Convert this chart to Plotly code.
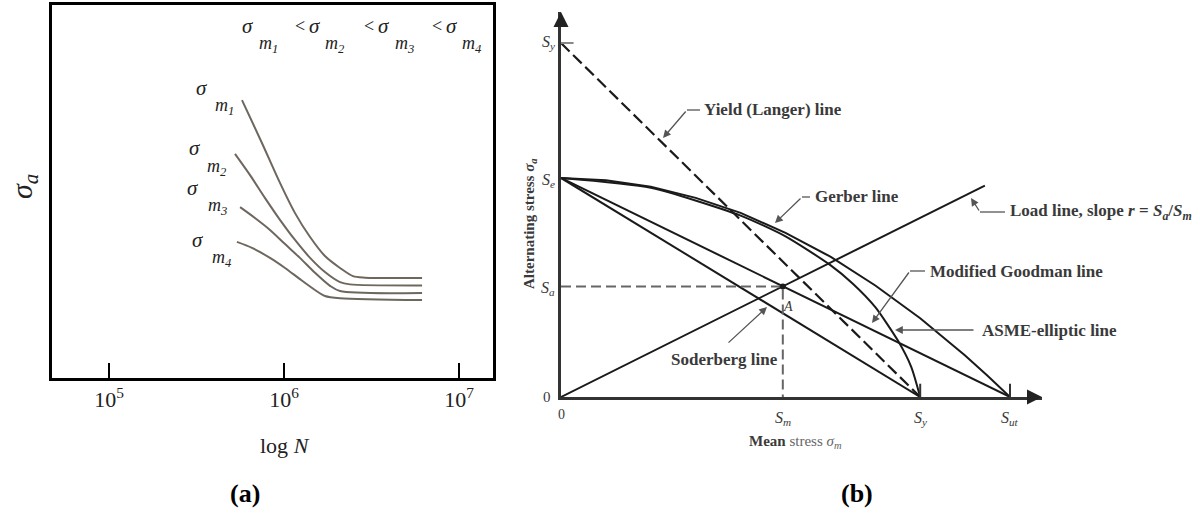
import plotly.graph_objects as go

W, H = 1200, 517

# ---------------- Panel (a): S-N curves for different mean stresses ----------------
# log10(N) and alternating stress (arbitrary units)
logN_m1 = [5.760, 5.874, 5.977, 6.063, 6.149, 6.234, 6.320, 6.394, 6.463, 6.789]
sa_m1 = [74.5, 63.0, 52.3, 44.2, 37.8, 32.7, 29.5, 27.3, 26.9, 26.8]
logN_m2 = [5.720, 5.806, 5.891, 5.977, 6.063, 6.149, 6.234, 6.320, 6.377, 6.789]
sa_m2 = [60.1, 54.4, 48.3, 42.4, 37.0, 32.2, 28.4, 25.7, 25.1, 24.8]
logN_m3 = [5.749, 5.834, 5.920, 6.006, 6.091, 6.177, 6.263, 6.320, 6.789]
sa_m3 = [45.8, 42.9, 39.7, 35.9, 32.2, 28.2, 24.7, 23.3, 22.8]
logN_m4 = [5.731, 5.817, 5.920, 6.006, 6.091, 6.177, 6.234, 6.320, 6.789]
sa_m4 = [36.5, 34.9, 32.2, 29.5, 26.5, 23.6, 22.0, 21.4, 20.9]
a_tick_vals = [1e5, 1e6, 1e7]
a_tick_text = ["10<sup>5</sup>", "10<sup>6</sup>", "10<sup>7</sup>"]

# ---------------- Panel (b): fatigue failure criteria ----------------
S_ut = 100.0
S_y = 80.0
S_e = 49.5
S_m = 49.4
S_a = 25.0
load_end_x = 94.4
gerber_x = [0, 10, 20, 30, 40, 50, 60, 70, 80, 90, 95, 100]
gerber_y = [49.5, 49.0, 47.5, 45.0, 41.6, 37.1, 31.7, 25.2, 17.8, 9.4, 4.8, 0]
asme_x = [0, 20, 40, 50, 60, 65, 70, 75, 78, 80]
asme_y = [49.5, 47.3, 41.0, 36.3, 29.8, 25.6, 20.3, 12.8, 6.8, 0]


def P(px, py):
    return px / W, 1 - py / H


fig = go.Figure()

curve_col = "#6e675e"
for lx, ly in [(logN_m1, sa_m1), (logN_m2, sa_m2), (logN_m3, sa_m3), (logN_m4, sa_m4)]:
    fig.add_trace(go.Scatter(x=[10 ** v for v in lx], y=ly, mode="lines",
                             line=dict(color=curve_col, width=2, shape="spline", smoothing=0.8),
                             xaxis="x", yaxis="y", showlegend=False, hoverinfo="skip"))

# panel b traces
black = "#1a1a1a"
fig.add_trace(go.Scatter(x=gerber_x, y=gerber_y, mode="lines",
                         line=dict(color=black, width=2),
                         xaxis="x2", yaxis="y2", showlegend=False))
fig.add_trace(go.Scatter(x=asme_x, y=asme_y, mode="lines",
                         line=dict(color=black, width=2, shape="spline", smoothing=0.6),
                         xaxis="x2", yaxis="y2", showlegend=False))
# modified Goodman
fig.add_trace(go.Scatter(x=[0, S_ut], y=[S_e, 0], mode="lines",
                         line=dict(color=black, width=2), xaxis="x2", yaxis="y2", showlegend=False))
# Soderberg
fig.add_trace(go.Scatter(x=[0, S_y], y=[S_e, 0], mode="lines",
                         line=dict(color=black, width=2), xaxis="x2", yaxis="y2", showlegend=False))
# Yield (Langer)
fig.add_trace(go.Scatter(x=[0, S_y], y=[S_y, 0], mode="lines",
                         line=dict(color=black, width=2.2, dash="12px,5px"),
                         xaxis="x2", yaxis="y2", showlegend=False))
# Load line
fig.add_trace(go.Scatter(x=[0, load_end_x], y=[0, load_end_x * S_a / S_m], mode="lines",
                         line=dict(color=black, width=2), xaxis="x2", yaxis="y2", showlegend=False))
# dashed projections of A
fig.add_trace(go.Scatter(x=[0, S_m, S_m], y=[S_a, S_a, 0], mode="lines",
                         line=dict(color="#666666", width=2, dash="10px,5px"),
                         xaxis="x2", yaxis="y2", showlegend=False))
fig.add_trace(go.Scatter(x=[S_m], y=[S_a], mode="markers",
                         marker=dict(color=black, size=6), xaxis="x2", yaxis="y2", showlegend=False))

xr_b = [0, (1042 - 561) / 4.49]
yr_b = [0, (397 - 12) / 4.425]

serif = "Liberation Serif"
fig.update_layout(
    width=W, height=H,
    margin=dict(l=0, r=0, t=0, b=0),
    paper_bgcolor="white", plot_bgcolor="rgba(0,0,0,0)",
    font=dict(family=serif, color="#222"),
    xaxis=dict(type="log", domain=[52 / W, 493 / W],
               range=[5 + (52 - 109) / 175, 5 + (493 - 109) / 175],
               showgrid=False, zeroline=False, showline=True, mirror=True,
               linecolor="black", linewidth=3,
               tickvals=a_tick_vals, ticktext=a_tick_text, ticks="inside",
               ticklen=15, tickwidth=2, tickcolor="black",
               tickfont=dict(family=serif, size=22, color="#222")),
    yaxis=dict(domain=[(H - 378) / H, (H - 5) / H], range=[0, 100],
               showgrid=False, zeroline=False, showline=True, mirror=True,
               linecolor="black", linewidth=3, showticklabels=False, ticks=""),
    xaxis2=dict(domain=[561 / W, 1042 / W], range=xr_b, anchor="y2",
                showgrid=False, zeroline=False, showline=True, linecolor="#333",
                linewidth=3, showticklabels=False, ticks=""),
    yaxis2=dict(domain=[(H - 397) / H, (H - 12) / H], range=yr_b, anchor="x2",
                showgrid=False, zeroline=False, showline=True, linecolor="#333",
                linewidth=3, showticklabels=False, ticks=""),
)

ann = []


def txt(px, py, text, size=14, color="#222", xanchor="center", angle=0, yanchor="middle"):
    x, y = P(px, py)
    ann.append(dict(x=x, y=y, xref="paper", yref="paper", text=text, showarrow=False,
                    font=dict(family=serif, size=size, color=color),
                    xanchor=xanchor, yanchor=yanchor, textangle=angle))


# panel a texts
txt(24, 187, "<i>σ<sub>a</sub></i>", size=30, angle=-90)
txt(285, 445, "log <i>N</i>", size=22)
txt(245, 493, "<b>(a)</b>", size=26, color="black")
# curve labels
for (sx, sy, mx, my, k) in [(202, 88, 224, 106, 1), (195, 148, 217, 167, 2),
                             (193, 188, 217, 207, 3), (198, 240, 222, 258, 4)]:
    txt(sx, sy, "<i>σ</i>", size=21)
    txt(mx, my, "<i>m<sub>%d</sub></i>" % k, size=18)
# ordering title
for i, (sx, mx) in enumerate([(248, 268), (315, 335), (384, 404), (452, 472)]):
    txt(sx, 26, "<i>σ</i>", size=21)
    txt(mx, 44, "<i>m<sub>%d</sub></i>" % (i + 1), size=18)
    if i > 0:
        txt(sx - 15, 26, "<", size=18)

# panel b texts
lab = "#3a3a3a"
txt(548, 43, "<i>S<sub>y</sub></i>", size=16, color=lab)
txt(548, 180, "<i>S<sub>e</sub></i>", size=16, color=lab)
txt(548, 288, "<i>S<sub>a</sub></i>", size=16, color=lab)
txt(547, 397, "0", size=15, color=lab)
txt(561, 414, "0", size=14, color=lab)
txt(783, 418, "<i>S<sub>m</sub></i>", size=16, color=lab)
txt(920, 418, "<i>S<sub>y</sub></i>", size=16, color=lab)
txt(1010, 418, "<i>S<sub>ut</sub></i>", size=16, color=lab)
txt(795, 442, "<b>Mean</b> <span style='color:#666'>stress <i>σ<sub>m</sub></i></span>", size=15, color=lab)
txt(530, 224, "<b>Alternating stress <i>σ<sub>a</sub></i></b>", size=15, color=lab, angle=-90)
txt(788, 306, "<i>A</i>", size=14, color=lab)
txt(857, 493, "<b>(b)</b>", size=26, color="black")

fs = 17
txt(702, 110, "<b>Yield (Langer) line</b>", size=fs, color=lab, xanchor="left")
txt(813, 197, "<b>Gerber line</b>", size=fs, color=lab, xanchor="left")
txt(1008, 212, "<b>Load line, slope <i>r</i> = <i>S<sub>a</sub></i>/<i>S<sub>m</sub></i></b>", size=fs, color=lab, xanchor="left")
txt(928, 271, "<b>Modified Goodman line</b>", size=fs, color=lab, xanchor="left")
txt(980, 330, "<b>ASME-elliptic line</b>", size=fs, color=lab, xanchor="left")
txt(724, 359, "<b>Soderberg line</b>", size=fs, color=lab)


def arrow(hx, hy, tx, ty):
    x, y = P(hx, hy)
    ann.append(dict(x=x, y=y, xref="paper", yref="paper", text="", showarrow=True,
                    ax=tx - hx, ay=ty - hy, axref="pixel", ayref="pixel",
                    arrowhead=2, arrowsize=1.2, arrowwidth=1.3, arrowcolor="#555"))


arrow(663, 138, 687, 110)
arrow(775, 223, 802, 197)
arrow(971, 198, 980, 212)
arrow(872, 323, 910, 271)
arrow(895, 330, 975, 330)
arrow(767, 307, 727, 344)

# axis arrow heads for panel b
ann.append(dict(x=xr_b[1], y=0, xref="x2", yref="y2", text="", showarrow=True,
                ax=-14, ay=0, arrowhead=2, arrowsize=1, arrowwidth=3, arrowcolor="#222"))
ann.append(dict(x=0, y=yr_b[1], xref="x2", yref="y2", text="", showarrow=True,
                ax=0, ay=14, arrowhead=2, arrowsize=1, arrowwidth=3, arrowcolor="#222"))

fig.update_layout(annotations=ann)

shapes = []


def seg(x0, y0, x1, y1, color="#555", width=1.3):
    a0, b0 = P(x0, y0)
    a1, b1 = P(x1, y1)
    shapes.append(dict(type="line", xref="paper", yref="paper", x0=a0, y0=b0, x1=a1, y1=b1,
                       line=dict(color=color, width=width)))


# horizontal parts of the leaders
seg(687, 110, 700, 110)
seg(802, 197, 810, 197)
seg(980, 212, 1005, 212)
seg(910, 271, 925, 271)
# small ticks in panel b
shapes.append(dict(type="line", xref="x2", yref="y2", x0=0, x1=2.8, y0=S_y, y1=S_y,
                   line=dict(color="#888", width=2)))
for v in (S_y, S_ut):
    shapes.append(dict(type="line", xref="x2", yref="y2", x0=v, x1=v, y0=0, y1=3,
                       line=dict(color="#333", width=2)))
fig.update_layout(shapes=shapes)

fig.write_html("out.html")
